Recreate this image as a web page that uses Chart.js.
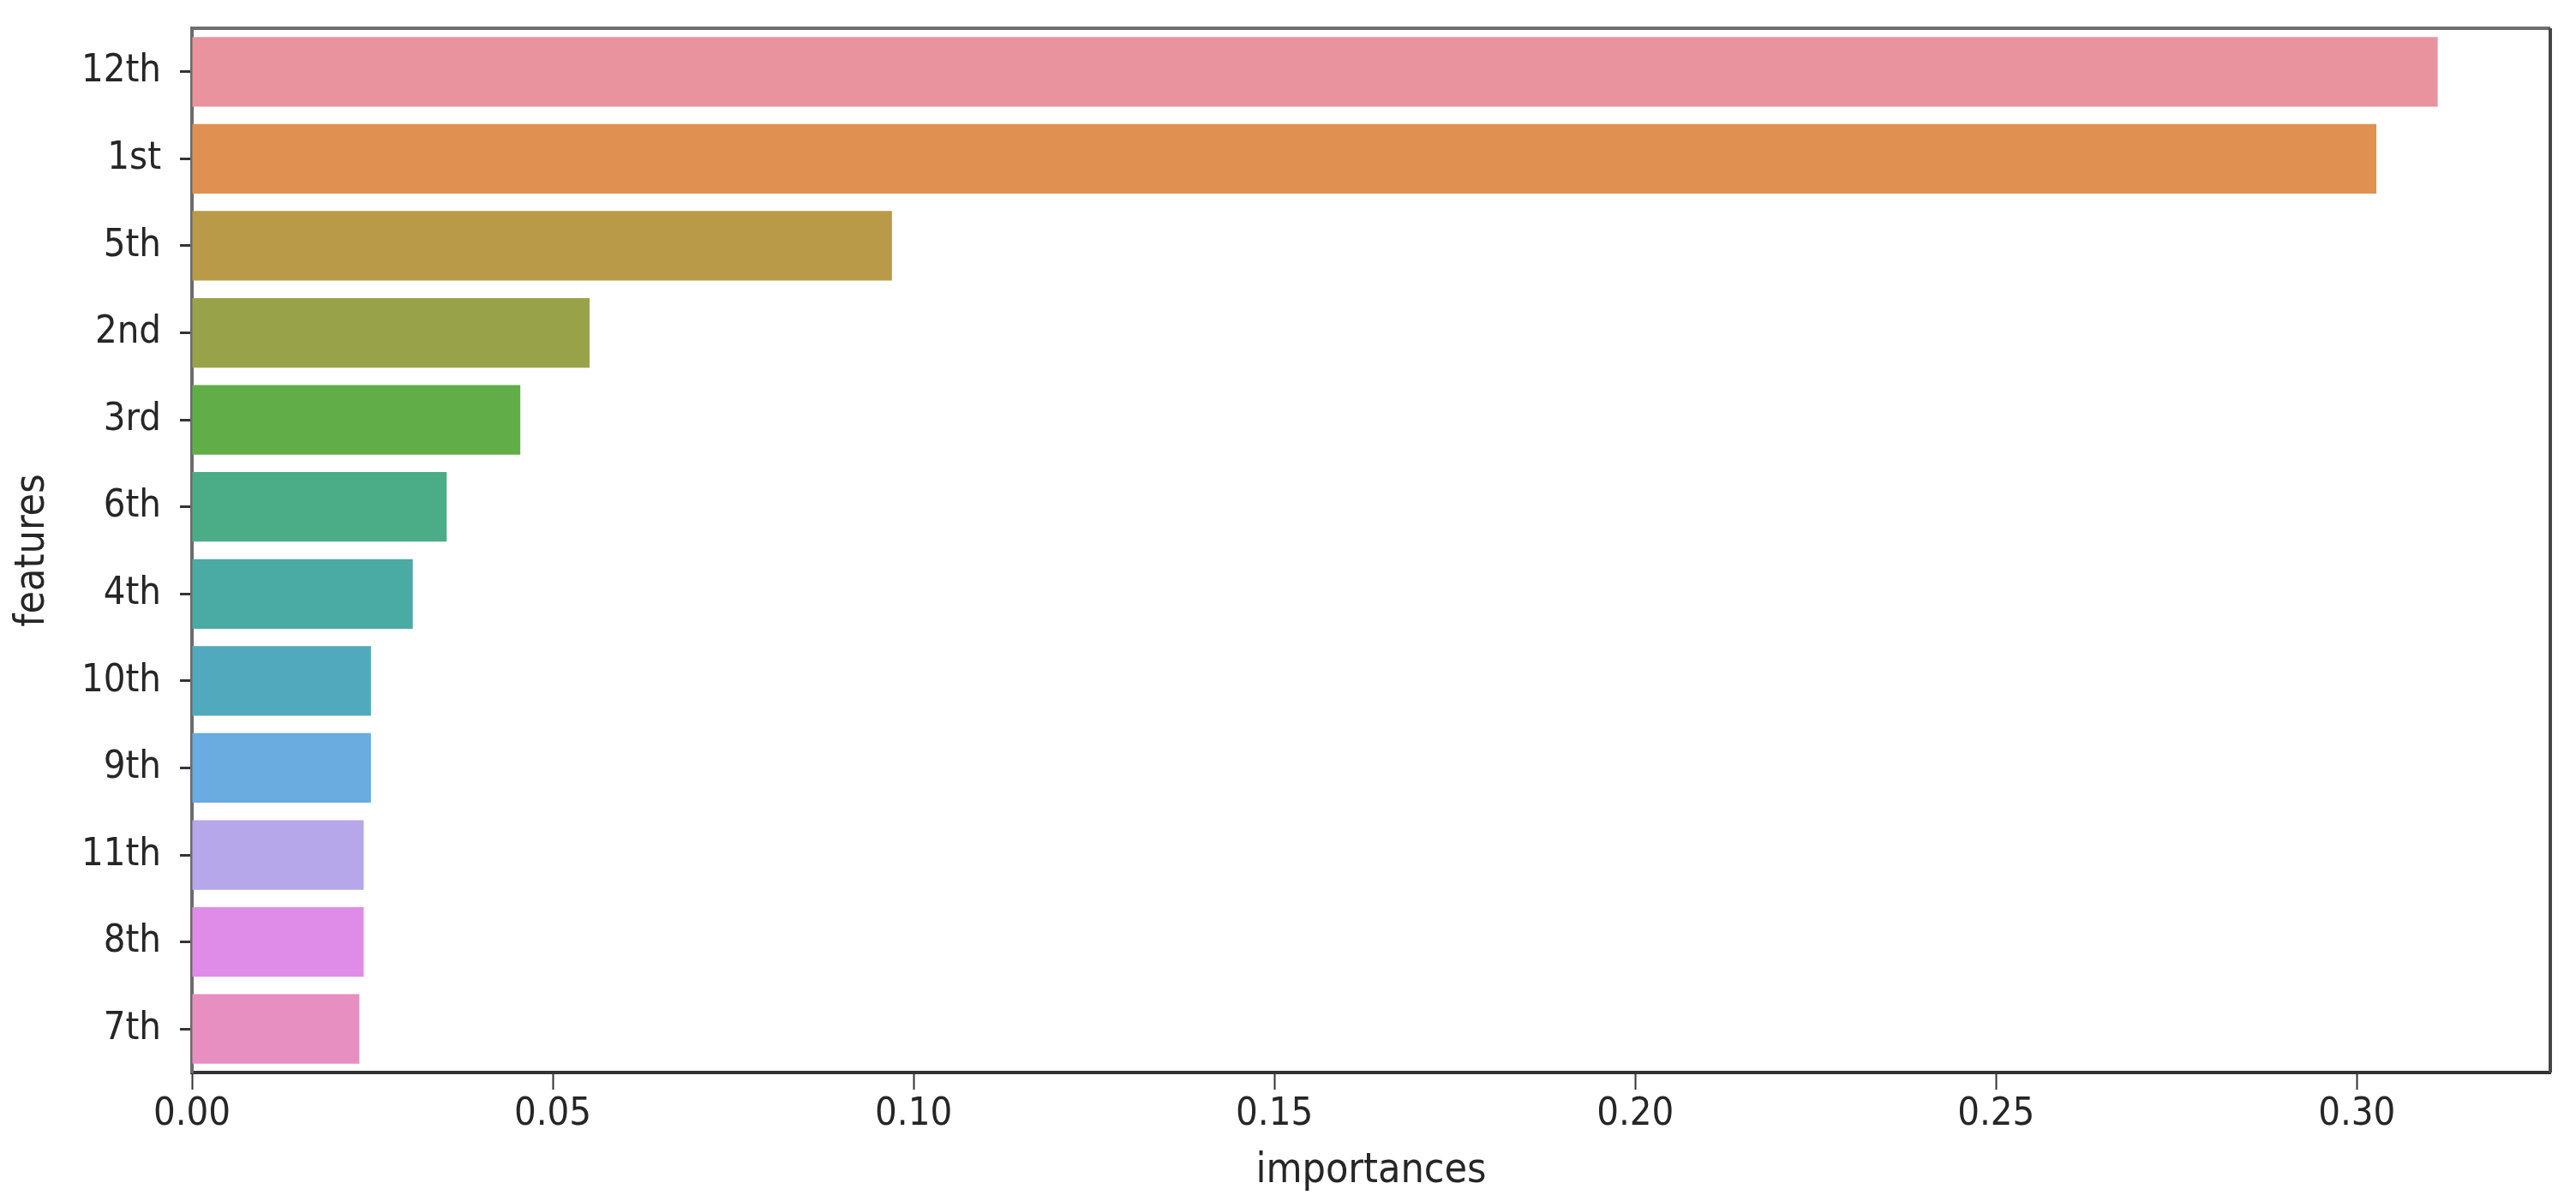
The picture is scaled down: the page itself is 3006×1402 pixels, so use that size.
<!DOCTYPE html>
<html>
<head>
<meta charset="utf-8">
<script src="https://cdn.jsdelivr.net/npm/chart.js@4.4.1/dist/chart.umd.min.js"></script>
<style>
  html, body { margin: 0; padding: 0; background: #ffffff; }
  #wrap { width: 3006px; height: 1402px; position: relative; }
</style>
</head>
<body>
<div id="wrap"><canvas id="c" width="3006" height="1402"></canvas></div>
<script>
const categories = ['12th', '1st', '5th', '2nd', '3rd', '6th', '4th', '10th', '9th', '11th', '8th', '7th'];
const importances = [0.3112, 0.3027, 0.0970, 0.0551, 0.0455, 0.0353, 0.0306, 0.0248, 0.0248, 0.0238, 0.0238, 0.0232];
const barColors = ['#e8939e', '#e09051', '#b89a49', '#98a349', '#61ae48', '#4aad88', '#4aaaa4', '#50a9bc', '#6aabe0', '#b6a6ea', '#df8ce8', '#e88fc2'];
const xTickValues = [0.00, 0.05, 0.10, 0.15, 0.20, 0.25, 0.30];
const xMax = 0.3268;
const xTitle = 'importances';
const yTitle = 'features';

const FONT = '"DejaVu Sans Condensed", "DejaVu Sans", sans-serif';

const frame = {
  id: 'frame',
  afterDatasetsDraw(chart) {
    const a = chart.chartArea;
    const ctx = chart.ctx;
    ctx.save();
    ctx.lineWidth = 4;
    ctx.strokeStyle = '#6e6e6e';
    ctx.beginPath();
    ctx.moveTo(a.left, a.top);
    ctx.lineTo(a.right, a.top);
    ctx.stroke();
    ctx.strokeStyle = '#454545';
    ctx.beginPath();
    ctx.moveTo(a.right, a.top);
    ctx.lineTo(a.right, a.bottom);
    ctx.stroke();
    ctx.restore();
  }
};

new Chart(document.getElementById('c'), {
  type: 'bar',
  data: {
    labels: categories,
    datasets: [{
      data: importances,
      backgroundColor: barColors,
      borderWidth: 0,
      barPercentage: 1.0,
      categoryPercentage: 0.8
    }]
  },
  options: {
    indexAxis: 'y',
    responsive: false,
    animation: false,
    devicePixelRatio: 1,
    layout: { padding: { top: 33, right: 30, left: 0, bottom: 0 } },
    plugins: { legend: { display: false }, tooltip: { enabled: false } },
    scales: {
      x: {
        type: 'linear',
        min: 0,
        max: xMax,
        afterBuildTicks: (scale) => { scale.ticks = xTickValues.map(v => ({ value: v })); },
        afterFit: (scale) => { scale.height = 150; scale.paddingLeft = 0; scale.paddingRight = 0; },
        grid: { display: true, drawOnChartArea: false, drawTicks: true, tickLength: 20, tickColor: '#333333', tickWidth: 2 },
        border: { display: true, color: '#333333', width: 4 },
        ticks: {
          color: '#262626',
          font: { family: FONT, size: 45 },
          padding: 2,
          maxRotation: 0,
          autoSkip: false,
          callback: (v) => Number(v).toFixed(2)
        },
        title: { display: true, text: xTitle, color: '#262626', font: { family: FONT, size: 48 }, padding: { top: 0, bottom: 6 } }
      },
      y: {
        type: 'category',
        afterFit: (scale) => { scale.width = 224; scale.paddingTop = 0; scale.paddingBottom = 0; },
        grid: { display: true, offset: false, drawOnChartArea: false, drawTicks: true, tickLength: 14, tickColor: '#333333', tickWidth: 3 },
        border: { display: true, color: '#6b6b6b', width: 4 },
        ticks: {
          color: '#262626',
          font: { family: FONT, size: 45 },
          padding: 22,
          autoSkip: false
        },
        title: { display: true, text: yTitle, color: '#262626', font: { family: FONT, size: 48 }, padding: { top: 10, bottom: 0 } }
      }
    }
  },
  plugins: [frame]
});
</script>
</body>
</html>
